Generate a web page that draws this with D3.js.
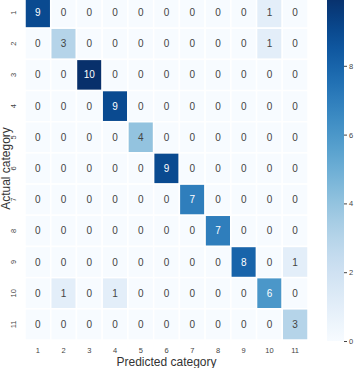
<!DOCTYPE html>
<html>
<head>
<meta charset="utf-8">
<script src="https://cdn.jsdelivr.net/npm/d3@7"></script>
<style>
  body { margin: 0; background: #fff; }
  svg { display: block; font-family: "Liberation Sans", Arial, sans-serif; }
</style>
</head>
<body>
<div id="chart"></div>
<script>
const categories = ["1", "2", "3", "4", "5", "6", "7", "8", "9", "10", "11"];
// rows = actual category, columns = predicted category
const matrix = [
    [9, 0, 0, 0, 0, 0, 0, 0, 0, 1, 0],
    [0, 3, 0, 0, 0, 0, 0, 0, 0, 1, 0],
    [0, 0, 10, 0, 0, 0, 0, 0, 0, 0, 0],
    [0, 0, 0, 9, 0, 0, 0, 0, 0, 0, 0],
    [0, 0, 0, 0, 4, 0, 0, 0, 0, 0, 0],
    [0, 0, 0, 0, 0, 9, 0, 0, 0, 0, 0],
    [0, 0, 0, 0, 0, 0, 7, 0, 0, 0, 0],
    [0, 0, 0, 0, 0, 0, 0, 7, 0, 0, 0],
    [0, 0, 0, 0, 0, 0, 0, 0, 8, 0, 1],
    [0, 1, 0, 1, 0, 0, 0, 0, 0, 6, 0],
    [0, 0, 0, 0, 0, 0, 0, 0, 0, 0, 3]
];
const colorTicks = [0, 2, 4, 6, 8];
const xLabel = "Predicted category";
const yLabel = "Actual category";

const width = 358, height = 368;
const mLeft = 25, mRight = 308, mTop = -3, mBottom = 340;

const svg = d3.select("#chart")
    .append("svg")
    .attr("width", width)
    .attr("height", height);

const xScale = d3.scaleBand().domain(categories).range([mLeft, mRight]);
const yScale = d3.scaleBand().domain(categories).range([mTop, mBottom]);
const color = d3.scaleSequential(d3.interpolateBlues).domain([0, 10]);

const cells = [];
matrix.forEach((row, i) => {
    row.forEach((v, j) => {
        cells.push({actual: categories[i], predicted: categories[j], value: v});
    });
});

svg.append("g")
    .selectAll("rect")
    .data(cells)
    .join("rect")
    .attr("x", d => xScale(d.predicted))
    .attr("y", d => yScale(d.actual))
    .attr("width", xScale.bandwidth())
    .attr("height", yScale.bandwidth())
    .attr("fill", d => color(d.value))
    .attr("stroke", "#fff")
    .attr("stroke-width", 1.5);

svg.append("g")
    .selectAll("text")
    .data(cells)
    .join("text")
    .attr("x", d => xScale(d.predicted) + xScale.bandwidth() / 2)
    .attr("y", d => yScale(d.actual) + yScale.bandwidth() / 2)
    .attr("text-anchor", "middle")
    .attr("dominant-baseline", "central")
    .style("font-size", "10px")
    .attr("fill", d => d.value > 5 ? "#fff" : "#444")
    .text(d => d.value);

// x axis
const xAxis = d3.axisBottom(xScale).tickSize(0).tickPadding(0);
const xg = svg.append("g")
    .attr("transform", `translate(0,${mBottom + 8})`)
    .call(xAxis);
xg.select(".domain").remove();
xg.selectAll("text").style("font-size", "7.5px").attr("fill", "#444");

// y axis, labels rotated
const yAxis = d3.axisLeft(yScale).tickSize(0).tickPadding(0);
const yg = svg.append("g")
    .attr("transform", `translate(${mLeft - 12},0)`)
    .call(yAxis);
yg.select(".domain").remove();
yg.selectAll("text")
    .style("font-size", "7.5px")
    .attr("fill", "#444")
    .attr("x", 0)
    .attr("dy", 0)
    .attr("text-anchor", "middle")
    .attr("dominant-baseline", "central")
    .attr("transform", "rotate(-90)");

svg.append("text")
    .attr("x", (mLeft + mRight) / 2)
    .attr("y", 366)
    .attr("text-anchor", "middle")
    .style("font-size", "12px")
    .attr("fill", "#333")
    .text(xLabel);

svg.append("text")
    .attr("transform", `translate(6,${(mTop + mBottom) / 2}) rotate(-90)`)
    .attr("text-anchor", "middle")
    .attr("dominant-baseline", "central")
    .style("font-size", "12px")
    .attr("fill", "#333")
    .text(yLabel);

// colorbar
const cbX = 327, cbW = 17;
const cbScale = d3.scaleLinear().domain([0, 10]).range([341, mTop]);
const defs = svg.append("defs");
const grad = defs.append("linearGradient")
    .attr("id", "cbGrad")
    .attr("x1", 0).attr("y1", 1).attr("x2", 0).attr("y2", 0);
d3.range(0, 10.01, 0.5).forEach(v => {
    grad.append("stop")
        .attr("offset", v / 10)
        .attr("stop-color", color(v));
});
svg.append("rect")
    .attr("x", cbX)
    .attr("y", cbScale(10))
    .attr("width", cbW)
    .attr("height", cbScale(0) - cbScale(10))
    .attr("fill", "url(#cbGrad)");

const cbAxis = d3.axisRight(cbScale).tickValues(colorTicks).tickSize(3).tickPadding(2);
const cg = svg.append("g")
    .attr("transform", `translate(${cbX + cbW},0)`)
    .call(cbAxis);
cg.select(".domain").remove();
cg.selectAll("line").attr("stroke", "#444");
cg.selectAll("text").style("font-size", "7.5px").attr("fill", "#444");
</script>
</body>
</html>
